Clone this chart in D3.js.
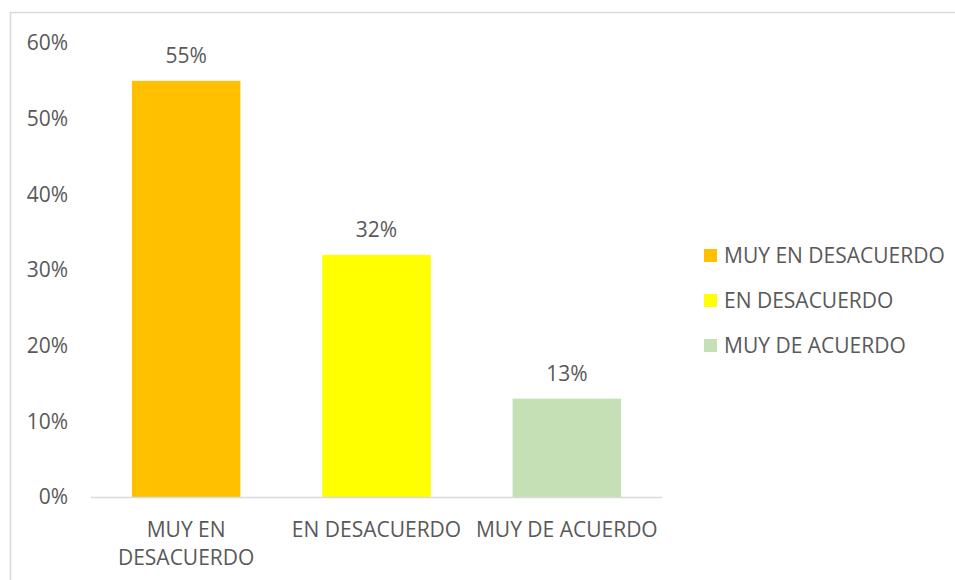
<!DOCTYPE html>
<meta charset="utf-8">
<style>
    body { margin: 0; background: #fff; }
    text { font-family: "Open Sans", sans-serif; fill: #595959; font-size: 21px; }
</style>
<script src="https://cdn.jsdelivr.net/npm/d3@7"></script>
<body>
<div id="chart"></div>
<script>

    // data
    var categories = ["MUY EN DESACUERDO", "EN DESACUERDO", "MUY DE ACUERDO"];
    var values = [0.55, 0.32, 0.13];
    var colors = ["#FFC000", "#FFFF00", "#C5E0B4"];
    var yTicks = [0, 0.1, 0.2, 0.3, 0.4, 0.5, 0.6];
    // two-line axis labels as in the picture
    var xLabels = [["MUY EN", "DESACUERDO"], ["EN DESACUERDO"], ["MUY DE ACUERDO"]];

    var W = 955, H = 580;

    var svg = d3.select("#chart")
        .append("svg")
        .attr("width", W)
        .attr("height", H);

    // chart area border
    svg.append("rect")
        .attr("x", 10.5)
        .attr("y", 12.5)
        .attr("width", W)
        .attr("height", H)
        .style("fill", "none")
        .style("stroke", "#d9d9d9")
        .style("stroke-width", 1.5);

    var x = d3.scaleBand()
        .domain(categories)
        .range([91, 662])
        .paddingInner(0.43)
        .paddingOuter(0.215);

    var y = d3.scaleLinear()
        .domain([0, 0.6])
        .range([497, 43]);

    // y axis labels
    svg.append("g")
        .selectAll("text")
        .data(yTicks)
        .enter()
        .append("text")
        .attr("x", 68)
        .attr("y", function (d) { return y(d); })
        .attr("dy", "0.35em")
        .attr("text-anchor", "end")
        .text(d3.format(".0%"));

    // bars
    svg.append("g")
        .selectAll("rect")
        .data(values)
        .enter()
        .append("rect")
        .attr("x", function (d, i) { return x(categories[i]); })
        .attr("y", function (d) { return y(d); })
        .attr("width", x.bandwidth())
        .attr("height", function (d) { return y(0) - y(d); })
        .style("fill", function (d, i) { return colors[i]; });

    // baseline
    svg.append("line")
        .attr("x1", 91)
        .attr("x2", 662)
        .attr("y1", y(0) + 0.5)
        .attr("y2", y(0) + 0.5)
        .style("stroke", "#d9d9d9")
        .style("stroke-width", 1.5);

    // value labels
    svg.append("g")
        .selectAll("text")
        .data(values)
        .enter()
        .append("text")
        .attr("x", function (d, i) { return x(categories[i]) + x.bandwidth() / 2; })
        .attr("y", function (d) { return y(d) - 18; })
        .attr("text-anchor", "middle")
        .text(d3.format(".0%"));

    // category labels
    var cat = svg.append("g")
        .selectAll("text")
        .data(categories)
        .enter()
        .append("text")
        .attr("x", function (d) { return x(d) + x.bandwidth() / 2; })
        .attr("y", 537)
        .attr("text-anchor", "middle");

    cat.selectAll("tspan")
        .data(function (d, i) { return xLabels[i]; })
        .enter()
        .append("tspan")
        .attr("x", function () { return d3.select(this.parentNode).attr("x"); })
        .attr("dy", function (d, i) { return i === 0 ? 0 : 28; })
        .text(function (d) { return d; });

    // legend
    var legend = svg.append("g")
        .selectAll("g")
        .data(categories)
        .enter()
        .append("g")
        .attr("transform", function (d, i) { return "translate(704," + (256 + i * 45) + ")"; });

    legend.append("rect")
        .attr("x", 0)
        .attr("y", -7)
        .attr("width", 13)
        .attr("height", 13)
        .style("fill", function (d, i) { return colors[i]; });

    legend.append("text")
        .attr("x", 20)
        .attr("y", 0)
        .attr("dy", "0.35em")
        .text(function (d) { return d; });

</script>
</body>
